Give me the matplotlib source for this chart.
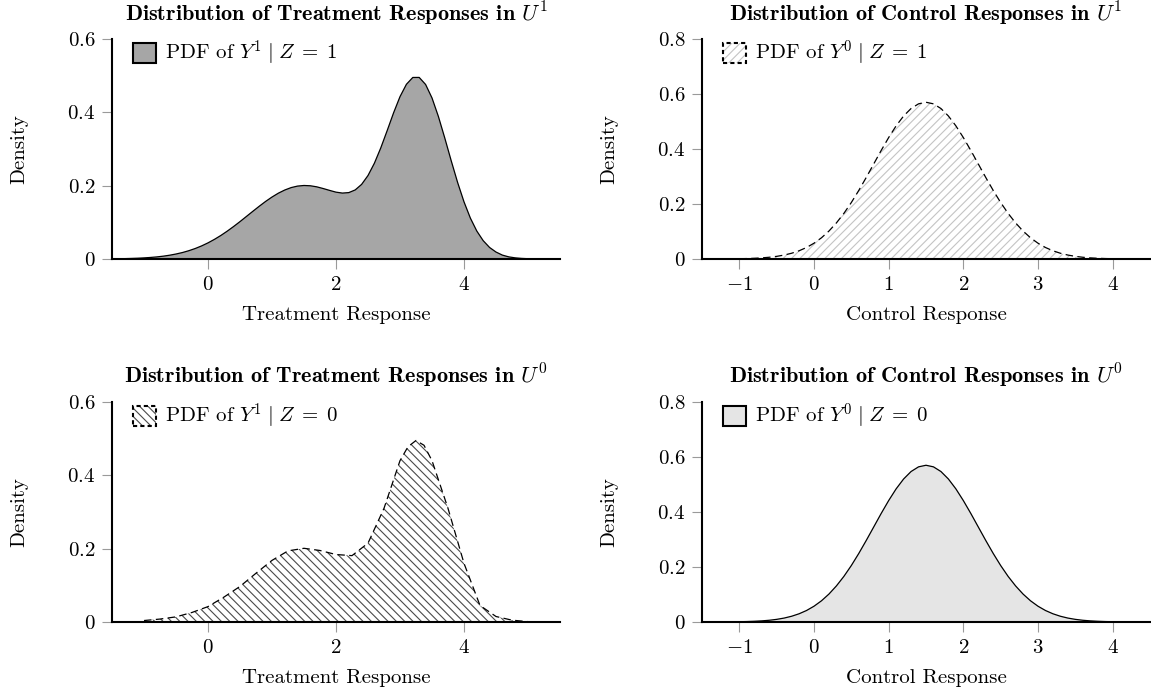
import numpy as np
import matplotlib
matplotlib.use("Agg")
import matplotlib.pyplot as plt
from matplotlib.patches import Patch
from matplotlib.legend_handler import HandlerTuple
from matplotlib.ticker import FixedLocator, FuncFormatter

plt.rcParams["font.family"] = "cmr10"
plt.rcParams["mathtext.fontset"] = "cm"
plt.rcParams["hatch.linewidth"] = 0.8

# treatment response density (same curve in both groups, U^0 one sampled coarser)
treat_x = np.round(np.arange(-1.5, 5.51, 0.1), 1)
treat_y = [0.0005, 0.0007, 0.0010, 0.0015, 0.0021, 0.0030, 0.0042, 0.0057, 0.0077, 0.0103,
           0.0136, 0.0176, 0.0226, 0.0286, 0.0357, 0.0440, 0.0535, 0.0641, 0.0759, 0.0886,
           0.1020, 0.1160, 0.1300, 0.1438, 0.1570, 0.1690, 0.1796, 0.1882, 0.1948, 0.1989,
           0.2005, 0.1997, 0.1968, 0.1922, 0.1871, 0.1823, 0.1798, 0.1811, 0.1884, 0.2035,
           0.2277, 0.2613, 0.3032, 0.3504, 0.3988, 0.4428, 0.4764, 0.4951, 0.4952, 0.4760,
           0.4393, 0.3887, 0.3298, 0.2681, 0.2089, 0.1559, 0.1114, 0.0763, 0.0500, 0.0314,
           0.0190, 0.0106, 0.0058, 0.0031, 0.0016, 0.0008, 0.0004, 0.0002, 0.0001, 0.0, 0.0]

treat0_x = [-1.0, -0.75, -0.5, -0.25, 0.0, 0.25, 0.5, 0.75, 1.0, 1.25, 1.5, 1.75, 2.0,
            2.25, 2.5, 2.75, 3.0, 3.125, 3.25, 3.375, 3.5, 3.75, 4.0, 4.25, 4.5, 4.75, 5.0]
treat0_y = [0.004, 0.008, 0.014, 0.026, 0.042, 0.068, 0.097, 0.133, 0.168, 0.194, 0.201,
            0.195, 0.184, 0.181, 0.215, 0.31, 0.44, 0.478, 0.495, 0.482, 0.44, 0.31, 0.16,
            0.045, 0.015, 0.005, 0.001]

# control response density
ctrl_x = np.round(np.arange(-1.0, 4.01, 0.1), 1)
ctrl_y = [0.0010, 0.0016, 0.0026, 0.0041, 0.0063, 0.0096, 0.0143, 0.0209, 0.0299, 0.0418,
          0.0574, 0.0771, 0.1016, 0.1312, 0.1658, 0.2054, 0.2494, 0.2967, 0.3457, 0.3948,
          0.4416, 0.4842, 0.5200, 0.5472, 0.5642, 0.5700, 0.5642, 0.5472, 0.5200, 0.4842,
          0.4416, 0.3948, 0.3457, 0.2967, 0.2494, 0.2054, 0.1658, 0.1312, 0.1016, 0.0771,
          0.0574, 0.0418, 0.0299, 0.0209, 0.0143, 0.0096, 0.0063, 0.0041, 0.0026, 0.0016, 0.0010]

treat_ticks = [0, 2, 4]
ctrl_ticks = [-1, 0, 1, 2, 3, 4]
treat_yticks = [0, 0.2, 0.4, 0.6]
ctrl_yticks = [0, 0.2, 0.4, 0.6, 0.8]

FS = 15
DASH = (0, (6, 3.5))
BOX_DASH = (0, (2, 1.5))
LIGHT_HATCH = "#c4c4c4"
DARK_HATCH = "#4a4a4a"

fig = plt.figure(figsize=(11.51, 6.88), dpi=100)
W, H = 448 / 1151, 220 / 688
ax_tl = fig.add_axes([112 / 1151, (688 - 259) / 688, W, H])
ax_tr = fig.add_axes([702 / 1151, (688 - 259) / 688, W, H])
ax_bl = fig.add_axes([112 / 1151, (688 - 622) / 688, W, H])
ax_br = fig.add_axes([702 / 1151, (688 - 622) / 688, W, H])


def style(ax, xlim, xticks, ylim, yticks, title, xlabel, handle, label):
    ax.set_xlim(*xlim)
    ax.set_ylim(*ylim)
    for s in ["top", "right"]:
        ax.spines[s].set_visible(False)
    for s in ["left", "bottom"]:
        ax.spines[s].set_linewidth(1.5)
        ax.spines[s].set_zorder(5)
    ax.xaxis.set_major_locator(FixedLocator(xticks))
    ax.yaxis.set_major_locator(FixedLocator(yticks))
    fmt = FuncFormatter(lambda v, p: "$%s$" % ("%g" % v))
    ax.xaxis.set_major_formatter(fmt)
    ax.yaxis.set_major_formatter(fmt)
    ax.tick_params(direction="out", length=7, width=0.8, color="#9a9a9a",
                   labelsize=FS, pad=5)
    ax.text(0.5, 1 + 18 / 220, title, transform=ax.transAxes, ha="center",
            va="baseline", fontsize=16, fontfamily="cmb10")
    ax.set_xlabel(xlabel, fontsize=FS)
    ax.xaxis.set_label_coords(0.5, -47 / 220)
    ax.set_ylabel("Density", fontsize=FS)
    ax.yaxis.set_label_coords(-84 / 448, 0.5)
    ax.legend(handles=[handle], labels=[label], loc="upper left",
              bbox_to_anchor=(21 / 448, 1.0), frameon=False, fontsize=FS,
              borderpad=0, borderaxespad=0, handlelength=1.1, handleheight=1.05,
              handletextpad=0.45,
              handler_map={tuple: HandlerTuple(ndivide=1, pad=0)})


def hatched_box(color, hatch):
    return (Patch(facecolor="white", edgecolor=color, hatch=hatch, lw=0),
            Patch(facecolor="none", edgecolor="black", lw=1.5, linestyle=BOX_DASH))


# Z = 1, treatment: solid grey fill
ax_tl.fill_between(treat_x, treat_y, 0, facecolor="#a6a6a6", linewidth=0)
ax_tl.plot(treat_x, treat_y, color="black", lw=0.9)
style(ax_tl, (-1.5, 5.5), treat_ticks, (0, 0.6), treat_yticks,
      r"Distribution of Treatment Responses in $U^1$", "Treatment Response",
      Patch(facecolor="#a6a6a6", edgecolor="black", lw=1.5),
      r"PDF of $Y^1\;|\;Z\;=\;1$")

# Z = 1, control: light hatch, dashed outline
ax_tr.fill_between(ctrl_x, ctrl_y, 0, facecolor="none", edgecolor=LIGHT_HATCH,
                   hatch="////", linewidth=0)
ax_tr.plot(ctrl_x, ctrl_y, color="black", lw=0.9, linestyle=DASH)
style(ax_tr, (-1.5, 4.5), ctrl_ticks, (0, 0.8), ctrl_yticks,
      r"Distribution of Control Responses in $U^1$", "Control Response",
      hatched_box(LIGHT_HATCH, "////"),
      r"PDF of $Y^0\;|\;Z\;=\;1$")

# Z = 0, treatment: dark hatch, dashed outline
ax_bl.fill_between(treat0_x, treat0_y, 0, facecolor="none", edgecolor=DARK_HATCH,
                   hatch="\\\\\\\\", linewidth=0)
ax_bl.plot(treat0_x, treat0_y, color="black", lw=0.9, linestyle=DASH)
style(ax_bl, (-1.5, 5.5), treat_ticks, (0, 0.6), treat_yticks,
      r"Distribution of Treatment Responses in $U^0$", "Treatment Response",
      hatched_box(DARK_HATCH, "\\\\\\\\"),
      r"PDF of $Y^1\;|\;Z\;=\;0$")

# Z = 0, control: light grey fill
ax_br.fill_between(ctrl_x, ctrl_y, 0, facecolor="#e5e5e5", linewidth=0)
ax_br.plot(ctrl_x, ctrl_y, color="black", lw=0.9)
style(ax_br, (-1.5, 4.5), ctrl_ticks, (0, 0.8), ctrl_yticks,
      r"Distribution of Control Responses in $U^0$", "Control Response",
      Patch(facecolor="#e5e5e5", edgecolor="black", lw=1.5),
      r"PDF of $Y^0\;|\;Z\;=\;0$")

fig.savefig("out.png", dpi=100)
